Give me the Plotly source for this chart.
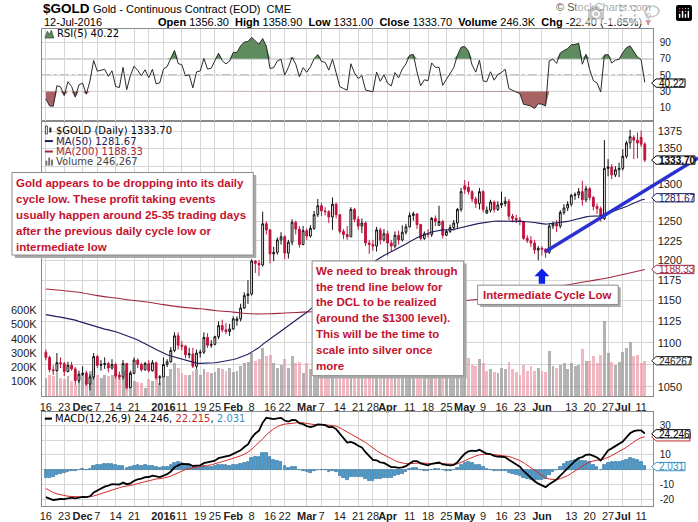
import numpy as np
import pandas as pd
import plotly.graph_objects as go

W, H = 698, 522

# ------------------------------------------------------------------ data
holidays = ['2015-11-26', '2015-12-25', '2016-01-01', '2016-01-18',
            '2016-02-15', '2016-03-25', '2016-05-30', '2016-07-04']
dates = [d.strftime('%Y-%m-%d') for d in pd.bdate_range('2015-11-16', '2016-07-12')
         if d.strftime('%Y-%m-%d') not in holidays]

# closes before the visible window (Sep 2 - Nov 13 2015), used to warm up the indicators
warmup_closes = [1134, 1124, 1121, 1120, 1103, 1110, 1108, 1108, 1103, 1118, 1118, 1137,
                 1133, 1125, 1131, 1153, 1145, 1132, 1127, 1115, 1114, 1137, 1137, 1146,
                 1146, 1143, 1156, 1163, 1166, 1188, 1187, 1182, 1172, 1176, 1168, 1166,
                 1163, 1166, 1166, 1176, 1147, 1142, 1135, 1114, 1105, 1104, 1088, 1093,
                 1089, 1084, 1085, 1081]

opens = [1089, 1083, 1069, 1068, 1077,
         1076, 1067, 1074, 1070,
         1057, 1064, 1065, 1053, 1061,
         1084, 1074, 1075, 1076, 1071,
         1075, 1063, 1061, 1076, 1049,
         1065, 1080, 1075, 1069,
         1076, 1068, 1077, 1060,
         1061, 1075, 1078, 1091, 1108,
         1097, 1096, 1086, 1087, 1073,
         1088, 1089, 1106, 1097,
         1098, 1107, 1120, 1115, 1113,
         1116, 1126, 1128, 1141, 1156,
         1158, 1199, 1196, 1194, 1247,
         1239, 1208, 1210, 1226,
         1230, 1209, 1223, 1249, 1240,
         1220, 1238, 1231, 1241, 1259,
         1271, 1264, 1263, 1256, 1273,
         1259, 1237, 1233, 1230, 1266,
         1253, 1244, 1248, 1222,
         1220, 1218, 1239, 1226, 1234,
         1222, 1218, 1232, 1226, 1236,
         1243, 1258, 1260, 1246, 1228,
         1234, 1233, 1254, 1245, 1250,
         1232, 1237, 1242, 1248, 1266,
         1298, 1296, 1290, 1280, 1274,
         1290, 1261, 1265, 1276, 1266,
         1272, 1274, 1277, 1257, 1254,
         1252, 1250, 1228, 1225, 1222,
         1213, 1215, 1214, 1210,
         1244, 1247, 1244, 1262, 1268,
         1273, 1285, 1286, 1290, 1279,
         1294, 1282, 1270, 1267, 1254,
         1322, 1324, 1313, 1320, 1322,
         1339, 1358, 1366, 1362,
         1366, 1356.3]

highs = [1092, 1085, 1074, 1088, 1083,
         1078, 1078, 1078, 1072,
         1068, 1073, 1068, 1064, 1088,
         1086, 1080, 1083, 1078, 1081,
         1077, 1067, 1080, 1077, 1068,
         1083, 1082, 1077, 1078,
         1080, 1080, 1078, 1063,
         1083, 1081, 1095, 1112, 1112,
         1102, 1097, 1094, 1094, 1092,
         1092, 1112, 1111, 1103,
         1108, 1125, 1127, 1123, 1122,
         1131, 1131, 1146, 1160, 1175,
         1201, 1200, 1200, 1263, 1250,
         1240, 1217, 1229, 1236,
         1232, 1226, 1253, 1251, 1244,
         1244, 1241, 1245, 1264, 1280,
         1275, 1269, 1265, 1282, 1275,
         1260, 1240, 1244, 1269, 1268,
         1257, 1254, 1250, 1226,
         1226, 1243, 1242, 1240, 1238,
         1226, 1237, 1238, 1245, 1247,
         1262, 1263, 1261, 1247, 1237,
         1240, 1256, 1258, 1271, 1252,
         1240, 1246, 1252, 1268, 1295,
         1306, 1304, 1292, 1283, 1295,
         1292, 1270, 1279, 1278, 1277,
         1290, 1283, 1280, 1260, 1259,
         1256, 1251, 1232, 1231, 1226,
         1218, 1218, 1215, 1248,
         1250, 1252, 1265, 1273, 1277,
         1287, 1289, 1295, 1305, 1298,
         1296, 1284, 1274, 1270, 1362,
         1335, 1328, 1325, 1330, 1349,
         1361, 1377, 1369, 1373,
         1376, 1358.9]

lows = [1080, 1066, 1063, 1066, 1071,
        1062, 1066, 1068, 1052,
        1054, 1062, 1051, 1046, 1058,
        1071, 1068, 1070, 1066, 1069,
        1059, 1058, 1058, 1047, 1049,
        1064, 1071, 1067, 1068,
        1066, 1067, 1058, 1052,
        1061, 1072, 1077, 1089, 1092,
        1091, 1082, 1082, 1071, 1070,
        1083, 1087, 1094, 1094,
        1097, 1104, 1112, 1110, 1108,
        1115, 1120, 1125, 1140, 1146,
        1156, 1184, 1180, 1192, 1233,
        1196, 1199, 1207, 1220,
        1201, 1202, 1219, 1233, 1216,
        1219, 1226, 1229, 1239, 1256,
        1257, 1258, 1248, 1239, 1254,
        1234, 1227, 1226, 1230, 1249,
        1239, 1235, 1218, 1208,
        1212, 1211, 1220, 1224, 1206,
        1211, 1215, 1220, 1224, 1233,
        1242, 1251, 1240, 1225, 1226,
        1229, 1230, 1244, 1245, 1228,
        1231, 1235, 1238, 1240, 1263,
        1287, 1286, 1276, 1268, 1266,
        1262, 1260, 1262, 1262, 1264,
        1268, 1270, 1252, 1249, 1248,
        1245, 1226, 1222, 1217, 1208,
        1200, 1206, 1203, 1208,
        1240, 1236, 1241, 1259, 1264,
        1270, 1279, 1281, 1271, 1276,
        1278, 1265, 1260, 1250, 1252,
        1311, 1307, 1310, 1310, 1319,
        1336, 1350, 1335, 1336,
        1352, 1331]

closes = [1083, 1069, 1068, 1077, 1076,
          1067, 1074, 1070, 1057,
          1064, 1065, 1053, 1061, 1084,
          1074, 1075, 1076, 1071, 1075,
          1062, 1061, 1076, 1049, 1065,
          1080, 1075, 1069, 1076,
          1068, 1077, 1060, 1061,
          1075, 1078, 1091, 1108, 1097,
          1096, 1086, 1087, 1073, 1088,
          1089, 1106, 1097, 1098,
          1107, 1120, 1115, 1113, 1116,
          1128, 1128, 1141, 1156, 1158,
          1199, 1196, 1194, 1247, 1239,
          1208, 1210, 1226, 1230,
          1209, 1223, 1249, 1240, 1220,
          1238, 1231, 1241, 1259, 1271,
          1264, 1263, 1256, 1273, 1259,
          1237, 1233, 1230, 1266, 1253,
          1244, 1248, 1222, 1220,
          1218, 1239, 1226, 1234, 1222,
          1218, 1232, 1226, 1236, 1243,
          1258, 1260, 1246, 1228, 1234,
          1233, 1254, 1250, 1250, 1232,
          1237, 1242, 1248, 1266, 1290,
          1293, 1290, 1280, 1274, 1290,
          1266, 1265, 1276, 1266, 1272,
          1274, 1277, 1257, 1254, 1252,
          1250, 1228, 1225, 1222, 1213,
          1215, 1214, 1210, 1244,
          1247, 1244, 1262, 1268, 1273,
          1285, 1286, 1290, 1279, 1294,
          1282, 1270, 1267, 1254, 1322,
          1324, 1313, 1320, 1322, 1339,
          1358, 1367, 1362, 1358,
          1356.1, 1333.7]

volumes = [130000, 150000, 140000, 160000, 130000,
           120000, 140000, 110000, 80000,
           150000, 160000, 170000, 180000, 200000,
           150000, 130000, 150000, 140000, 150000,
           160000, 150000, 180000, 200000, 170000,
           110000, 100000, 90000, 60000,
           120000, 110000, 130000, 90000,
           170000, 140000, 190000, 230000, 200000,
           160000, 150000, 150000, 180000, 190000,
           150000, 190000, 170000, 160000,
           170000, 200000, 190000, 180000, 200000,
           170000, 180000, 210000, 230000, 240000,
           300000, 250000, 260000, 340000, 280000,
           290000, 230000, 200000, 220000,
           260000, 200000, 280000, 230000, 240000,
           160000, 230000, 190000, 240000, 280000,
           230000, 200000, 190000, 270000, 220000,
           190000, 170000, 210000, 280000, 200000,
           170000, 160000, 210000, 200000,
           140000, 230000, 180000, 170000, 200000,
           160000, 180000, 160000, 190000, 180000,
           200000, 190000, 210000, 220000, 160000,
           150000, 220000, 190000, 260000, 230000,
           140000, 150000, 190000, 250000, 300000,
           260000, 270000, 220000, 210000, 260000,
           230000, 180000, 190000, 170000, 160000,
           200000, 190000, 240000, 190000, 170000,
           150000, 220000, 180000, 210000, 180000,
           200000, 180000, 170000, 320000,
           210000, 200000, 220000, 230000, 190000,
           230000, 210000, 220000, 330000, 250000,
           250000, 280000, 230000, 290000, 530000,
           300000, 240000, 220000, 240000, 310000,
           340000, 380000, 280000, 290000,
           230000, 246267]

# 200-day moving average (weekly readings)
ma200_dates = ['2015-11-16', '2015-11-23', '2015-11-30', '2015-12-07', '2015-12-14',
               '2015-12-21', '2015-12-28', '2016-01-04', '2016-01-11', '2016-01-19',
               '2016-01-25', '2016-02-01', '2016-02-08', '2016-02-16', '2016-02-22',
               '2016-02-29', '2016-03-07', '2016-03-14', '2016-03-21', '2016-03-28',
               '2016-04-04', '2016-04-11', '2016-04-18', '2016-04-25', '2016-05-02',
               '2016-05-09', '2016-05-16', '2016-05-23', '2016-05-31', '2016-06-06',
               '2016-06-13', '2016-06-20', '2016-06-27', '2016-07-05', '2016-07-12']
ma200_vals = [1164, 1162, 1160, 1156, 1153, 1150, 1148, 1145, 1142, 1140,
              1138, 1136, 1134, 1134, 1135, 1136, 1137, 1138, 1139, 1140,
              1142, 1143, 1145, 1147, 1150, 1152, 1155, 1158, 1161, 1166,
              1170, 1174, 1178, 1183, 1188.33]

tick_dates = ['2015-11-16', '2015-11-23', '2015-12-01', '2015-12-07', '2015-12-14',
              '2015-12-21', '2015-12-28', '2016-01-04', '2016-01-11', '2016-01-19',
              '2016-01-25', '2016-02-01', '2016-02-08', '2016-02-16', '2016-02-22',
              '2016-03-01', '2016-03-07', '2016-03-14', '2016-03-21', '2016-03-28',
              '2016-04-01', '2016-04-11', '2016-04-18', '2016-04-25', '2016-05-02',
              '2016-05-09', '2016-05-16', '2016-05-23', '2016-06-01', '2016-06-13',
              '2016-06-20', '2016-06-27', '2016-07-01', '2016-07-11']
tick_labels = ['16', '23', '<b>Dec</b>', '7', '14', '21', '', '<b>2016</b>', '11', '19',
               '25', '<b>Feb</b>', '8', '16', '22', '<b>Mar</b>', '7', '14', '21', '28',
               '<b>Apr</b>', '11', '18', '25', '<b>May</b>', '9', '16', '23', '<b>Jun</b>', '13',
               '20', '27', '<b>Jul</b>', '11']

price_ticks = [1050, 1075, 1100, 1125, 1150, 1175, 1200, 1225, 1250, 1275, 1300, 1325, 1350, 1375]
# labels hidden behind the value tags in the original are left blank
price_tick_labels = ['1050', '', '1100', '1125', '1150', '1175', '1200', '1225', '1250', '',
                     '1300', '', '1350', '1375']
vol_ticks = [100000, 200000, 300000, 400000, 500000, 600000]
vol_tick_labels = ['100K', '200K', '300K', '400K', '500K', '600K']
rsi_ticks = [10, 30, 50, 70, 90]
macd_ticks = [-20, -10, 0, 10, 20, 30]
macd_tick_labels = ['-20', '-10', '', '10', '', '30']

last_rsi = 40.22
last_ma50 = 1281.67
last_ma200 = 1188.33
last_macd, last_signal, last_hist = 24.246, 22.215, 2.031

# ------------------------------------------------------------------ indicators
n = len(dates)
idx_of = {d: i for i, d in enumerate(dates)}
xi = list(range(n))
nw = len(warmup_closes)
s = pd.Series(warmup_closes + closes, dtype=float)
ma50 = s.rolling(50).mean().iloc[nw:].tolist()
ema12 = s.ewm(span=12, adjust=False).mean()
ema26 = s.ewm(span=26, adjust=False).mean()
macd_s = ema12 - ema26
sig_s = macd_s.ewm(span=9, adjust=False).mean()
macd = macd_s.iloc[nw:].tolist()
signal = sig_s.iloc[nw:].tolist()
hist = (macd_s - sig_s).iloc[nw:].tolist()
delta = s.diff()
gain = delta.clip(lower=0).ewm(alpha=1 / 5, adjust=False).mean()
loss = (-delta.clip(upper=0)).ewm(alpha=1 / 5, adjust=False).mean()
rsi = (100 - 100 / (1 + gain / loss)).iloc[nw:].tolist()
rsi_hi = [max(v, 70) for v in rsi]
rsi_lo = [min(v, 30) for v in rsi]

prev = [warmup_closes[-1]] + closes[:-1]
vol_colors = ['rgba(150,150,150,0.72)' if c >= p else 'rgba(232,140,155,0.62)'
              for c, p in zip(closes, prev)]

# ------------------------------------------------------------------ layout geometry (pixels)
PL, PR = 40, 652.5
X0PX, XDAY = 44.0, 3.685
XR = [(PL - X0PX) / XDAY, (PR - X0PX) / XDAY]
RSI_T, RSI_B = 29.3, 122
MAIN_T, MAIN_B = 122, 401
MACD_T, MACD_B = 416.7, 511.7
PRICE_R = [1039.4, 1390.4]
VOL_R = [-4200, 1933000]
RSI_R = [-5.7, 106.5]
MACD_R = [-24.6, 39.1]


def fx(x):
    return x / W


def fy(y):
    return 1 - y / H


def dom(t, b):
    return [fy(b), fy(t)]


def xpx(i):
    return X0PX + i * XDAY


def lin_px(v, r, t, b):
    return b - (v - r[0]) / (r[1] - r[0]) * (b - t)


def price_px(v):
    lo, hi = np.log10(PRICE_R[0]), np.log10(PRICE_R[1])
    return MAIN_B - (np.log10(v) - lo) / (hi - lo) * (MAIN_B - MAIN_T)


GRID = '#d6d6d6'
BORDER = '#8a8a8a'
AXF = 'Liberation Sans, Arial, sans-serif'
LEGF = 'DejaVu Sans, Verdana, sans-serif'
RED = '#c4122f'

fig = go.Figure()

# volume (base axis of the price panel so it sits underneath)
fig.add_trace(go.Bar(x=xi, y=volumes, marker=dict(color=vol_colors, line=dict(width=0)),
                     width=0.78, xaxis='x', yaxis='y', hoverinfo='skip'))
fig.add_trace(go.Scatter(x=[idx_of[d] for d in ma200_dates], y=ma200_vals, mode='lines',
                         line=dict(color='#a3263f', width=1.1, shape='spline'),
                         xaxis='x', yaxis='y5', hoverinfo='skip'))
fig.add_trace(go.Scatter(x=xi, y=ma50, mode='lines', line=dict(color='#1d1d5e', width=1.1),
                         xaxis='x', yaxis='y5', hoverinfo='skip'))
fig.add_trace(go.Candlestick(x=xi, open=opens, high=highs, low=lows, close=closes,
                             xaxis='x', yaxis='y5', whiskerwidth=0,
                             increasing=dict(line=dict(color='#111111', width=1), fillcolor='#ffffff'),
                             decreasing=dict(line=dict(color='#c0143c', width=1), fillcolor='#c0143c'),
                             hoverinfo='skip'))

# RSI
fig.add_trace(go.Scatter(x=xi, y=[70] * n, mode='lines', line=dict(width=0), xaxis='x2', yaxis='y2', hoverinfo='skip'))
fig.add_trace(go.Scatter(x=xi, y=rsi_hi, mode='lines', line=dict(width=0), fill='tonexty',
                         fillcolor='#5e8c5e', xaxis='x2', yaxis='y2', hoverinfo='skip'))
fig.add_trace(go.Scatter(x=xi, y=[30] * n, mode='lines', line=dict(width=0), xaxis='x2', yaxis='y2', hoverinfo='skip'))
fig.add_trace(go.Scatter(x=xi, y=rsi_lo, mode='lines', line=dict(width=0), fill='tonexty',
                         fillcolor='#a86262', xaxis='x2', yaxis='y2', hoverinfo='skip'))
fig.add_trace(go.Scatter(x=xi, y=rsi, mode='lines', line=dict(color='#2a2a2a', width=1),
                         xaxis='x2', yaxis='y2', hoverinfo='skip'))

# MACD
fig.add_trace(go.Bar(x=xi, y=hist, width=0.72, marker=dict(color='#4d9ed2', line=dict(color='#23648e', width=0.6)),
                     xaxis='x3', yaxis='y3', hoverinfo='skip'))
fig.add_trace(go.Scatter(x=xi, y=signal, mode='lines', line=dict(color='#d42a2a', width=1),
                         xaxis='x3', yaxis='y3', hoverinfo='skip'))
fig.add_trace(go.Scatter(x=xi, y=macd, mode='lines', line=dict(color='#000000', width=1.8),
                         xaxis='x3', yaxis='y3', hoverinfo='skip'))

tick_idx = [idx_of[d] for d in tick_dates]
xcommon = dict(range=XR, domain=[fx(PL), fx(PR)], showgrid=True, gridcolor=GRID, gridwidth=1,
               tickmode='array', tickvals=tick_idx, ticktext=tick_labels, ticks='', tickangle=0,
               showline=True, linecolor=BORDER, linewidth=1, mirror=True, zeroline=False,
               tickfont=dict(family=AXF, size=11, color='#222'), fixedrange=True)
ycommon = dict(showline=True, linecolor=BORDER, linewidth=1, mirror=True, zeroline=False, ticks='',
               fixedrange=True)
small_tf = dict(family=AXF, size=10, color='#222')

fig.update_layout(
    width=W, height=H, margin=dict(l=0, r=0, t=0, b=0),
    paper_bgcolor='white', plot_bgcolor='white', showlegend=False,
    bargap=0,
    xaxis=dict(anchor='y', rangeslider=dict(visible=False), **xcommon),
    xaxis2=dict(anchor='y2', showticklabels=False, **{k: v for k, v in xcommon.items()}),
    xaxis3=dict(anchor='y3', **xcommon),
    yaxis=dict(domain=dom(MAIN_T, MAIN_B), range=VOL_R, side='left', tickmode='array',
               tickvals=vol_ticks, ticktext=vol_tick_labels, showgrid=False, ticklabelstandoff=2,
               tickfont=dict(family=AXF, size=11, color='#222'), **ycommon),
    yaxis5=dict(overlaying='y', anchor='x', side='right', type='log',
                range=[np.log10(PRICE_R[0]), np.log10(PRICE_R[1])], tickmode='array',
                tickvals=price_ticks, ticktext=price_tick_labels, showgrid=True,
                gridcolor=GRID, showline=False, zeroline=False, ticks='', ticklabelstandoff=4,
                tickfont=dict(family=AXF, size=11, color='#222'), fixedrange=True),
    yaxis2=dict(domain=dom(RSI_T, RSI_B), anchor='x2', range=RSI_R, side='right', tickmode='array',
                tickvals=rsi_ticks, showgrid=True, gridcolor=GRID, ticklabelstandoff=4,
                tickfont=small_tf, **ycommon),
    yaxis3=dict(domain=dom(MACD_T, MACD_B), anchor='x3', range=MACD_R, side='right', tickmode='array',
                tickvals=macd_ticks, ticktext=macd_tick_labels, showgrid=True, gridcolor=GRID,
                ticklabelstandoff=4, tickfont=small_tf, **ycommon),
)

shapes = []
ann = []


def text(t, x, y, size=11, color='#000', family=AXF, xanchor='left', bg=None):
    d = dict(text=t, x=fx(x), y=fy(y), xref='paper', yref='paper', showarrow=False,
             xanchor=xanchor, yanchor='middle', font=dict(family=family, size=size, color=color))
    if bg:
        d['bgcolor'] = bg
        d['borderpad'] = 0
    ann.append(d)


def line(x0, y0, x1, y1, color, width=1, dash=None):
    shapes.append(dict(type='line', xref='paper', yref='paper', x0=fx(x0), y0=fy(y0), x1=fx(x1), y1=fy(y1),
                       line=dict(color=color, width=width, dash=dash), layer='above'))


def rect(x0, y0, x1, y1, fill, lc=None, lw=1):
    shapes.append(dict(type='rect', xref='paper', yref='paper', x0=fx(x0), y0=fy(y0), x1=fx(x1), y1=fy(y1),
                       fillcolor=fill, line=dict(color=lc or fill, width=lw if lc else 0), layer='above'))


def poly(pts, fill, lc=None, lw=1):
    path = 'M ' + ' L '.join(f'{fx(x):.5f},{fy(y):.5f}' for x, y in pts) + ' Z'
    shapes.append(dict(type='path', xref='paper', yref='paper', path=path, fillcolor=fill,
                       line=dict(color=lc or fill, width=lw if lc else 0), layer='above'))


# RSI reference lines
for lvl, dsh in ((70, None), (30, None), (50, 'dashdot')):
    yy = lin_px(lvl, RSI_R, RSI_T, RSI_B)
    shapes.append(dict(type='line', xref='paper', yref='paper', x0=fx(PL), x1=fx(PR), y0=fy(yy), y1=fy(yy),
                       line=dict(color='#6e6e6e', width=1, dash=dsh), layer='below'))

# ---- header
text('<b>$GOLD</b>', 39, 8.5, size=13.5)
text('Gold - Continuous Contract (EOD)&nbsp;&nbsp;CME', 89, 9.5, size=11)
text('© StockCharts.com', PR, 7.5, size=11, color='#555', xanchor='right')
text('12-Jul-2016', 40, 22, size=11)
chg = closes[-1] - closes[-2]
hdr = (f'<b>Open</b> {opens[-1]:.2f}  <b>High</b> {highs[-1]:.2f}  <b>Low</b> {lows[-1]:.2f}  '
       f'<b>Close</b> {closes[-1]:.2f}  <b>Volume</b> {volumes[-1] / 1000:.1f}K  '
       f'<b>Chg</b> {chg:.2f} ({chg / closes[-2] * 100:.2f}%)')
text(hdr, 643.5, 22.5, size=11, xanchor='right')
poly([(645, 20.5), (651, 20.5), (648, 25.5)], '#a3263f')

# ---- legends
poly([(43, 38.5), (45.5, 31.5), (47.5, 35), (49.5, 30.5), (52, 38.5)], '#5e8c5e', '#333', 0.6)
text(f'RSI(5) {last_rsi:.2f}', 53, 34, size=10, family=LEGF)

rect(43.5, 127.5, 45.5, 135.5, '#ffffff', '#222', 0.8)
rect(47.5, 129, 49.5, 134, '#222222')
text(f'$GOLD (Daily) {closes[-1]:.2f}', 52.5, 131.7, size=10, family=LEGF)
line(43, 142.7, 51, 142.7, '#1d1d5e', 2)
text(f'MA(50) {last_ma50:.2f}', 52.5, 142.7, size=10, family=LEGF, color='#1d1d5e')
line(43, 153.3, 51, 153.3, '#a3263f', 2)
text(f'MA(200) {last_ma200:.2f}', 52.5, 153.3, size=10, family=LEGF, color='#a3263f')
for bx, bh in ((43.5, 5), (46.3, 8), (49.1, 6)):
    rect(bx, 167.5 - bh, bx + 2, 167.5, '#777777')
text(f'Volume {volumes[-1]:,}', 52.5, 163.3, size=10, family=LEGF, color='#444')

text(f'MACD(12,26,9) {last_macd:.3f}, <span style="color:#c62828">{last_signal:.3f}</span>, '
     f'<span style="color:#3d8fc0">{last_hist:.3f}</span>', 52, 423.5, size=10, family=LEGF, bg='white')
line(43, 423.5, 50, 423.5, '#000', 2.2)

# ---- commentary boxes
rect(13, 177, 255, 261, '#a9a9a9')
rect(10, 174.5, 252, 258, '#ffffff', '#8c8c8c', 1)
box1 = ['Gold appears to be dropping into its daily', 'cycle low. These profit taking events',
        'usually happen around 25-35 trading days', 'after the previous daily cycle low or',
        'intermediate low']
for k, t in enumerate(box1):
    text(f'<b>{t}</b>', 12.5, 185 + 16.1 * k, size=11.5, color=RED)

rect(314, 266.5, 466, 383, '#a9a9a9')
rect(311, 264, 463, 380, '#ffffff', '#8c8c8c', 1)
box2 = ['We need to break through', 'the trend line below for', 'the DCL to be realized',
        '(around the $1300 level).', 'This will be the time to', 'scale into silver once', 'more']
for k, t in enumerate(box2):
    text(f'<b>{t}</b>', 313, 274 + 16.0 * k, size=11.5, color=RED)

rect(479.5, 290.5, 620.5, 310.5, '#a9a9a9')
rect(477, 288.5, 618, 308, '#ffffff', '#8c8c8c', 1)
text('<b>Intermediate Cycle Low</b>', 480.5, 298.5, size=11.5, color=RED)

# blue arrow under the June 2 low
ax_c = xpx(idx_of['2016-06-01'])
poly([(ax_c - 7.5, 279.5), (ax_c, 271.5), (ax_c + 7.5, 279.5), (ax_c + 3.2, 279.5), (ax_c + 3.2, 287),
      (ax_c - 3.2, 287), (ax_c - 3.2, 279.5)], '#0a22e6')

# trend line drawn through the June lows, extended to the right edge
t0 = (xpx(idx_of['2016-06-02']), price_px(1211))
t1 = (xpx(idx_of['2016-06-23']), price_px(1255))
slope = (t1[1] - t0[1]) / (t1[0] - t0[0])
line(t0[0], t0[1], W, t0[1] + slope * (W - t0[0]), '#2b30d0', 3.4)


# ---- value tags on the right axis
def tag(yc, label, color, x1, bold=False):
    h = 4.2
    poly([(651.5, yc), (656, yc - h), (x1, yc - h), (x1, yc + h), (656, yc + h)], '#ffffff', color, 1)
    if label:
        text(f'<b>{label}</b>' if bold else label, 656.5, yc + 0.3, size=10, color=color)


tag(lin_px(last_rsi, RSI_R, RSI_T, RSI_B), f'{last_rsi:.2f}', '#000', 685)
tag(price_px(last_ma200), f'{last_ma200:.2f}', '#a3263f', 694)
tag(price_px(last_ma50), f'{last_ma50:.2f}', '#1d1d5e', 694)
tag(price_px(closes[-1]), f'{closes[-1]:.2f}', '#000', 695, bold=True)
tag(lin_px(volumes[-1], VOL_R, MAIN_T, MAIN_B), f'{volumes[-1]}', '#222', 691)
tag(lin_px(last_signal, MACD_R, MACD_T, MACD_B), '', '#c62828', 690)
tag(lin_px(last_macd, MACD_R, MACD_T, MACD_B), f'{last_macd:.3f}', '#000', 690)
tag(lin_px(last_hist, MACD_R, MACD_T, MACD_B), f'{last_hist:.3f}', '#3d8fc0', 685)

fig.update_layout(shapes=shapes, annotations=ann)
fig.write_html('out.html',
               post_script="document.body.style.margin='0px';document.body.style.overflow='hidden';")
